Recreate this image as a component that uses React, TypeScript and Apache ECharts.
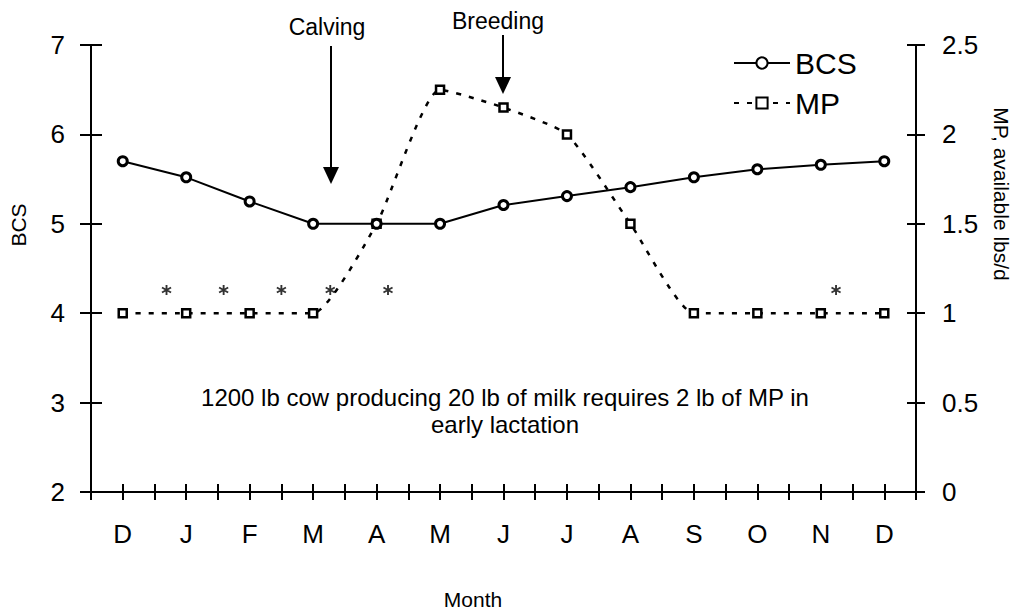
import React, { useEffect, useRef } from "react";
import * as echarts from "echarts";

const months = ["D", "J", "F", "M", "A", "M", "J", "J", "A", "S", "O", "N", "D"];
const bcsValues = [5.7, 5.52, 5.25, 5.0, 5.0, 5.0, 5.21, 5.31, 5.41, 5.52, 5.61, 5.66, 5.7];
const mpValues = [1.0, 1.0, 1.0, 1.0, 1.5, 2.25, 2.15, 2.0, 1.5, 1.0, 1.0, 1.0, 1.0];
const asteriskX = [0.69, 1.59, 2.5, 3.27, 4.18, 11.24];
const asteriskY = 4.26;
const bcsTicks = [2, 7, 1];
const mpTicks = [0, 2.5, 0.5];

const FONT = "Liberation Sans, Arial, sans-serif";
const ASTERISK =
  "path://M4.1 0 L5.9 0 L5.9 10 L4.1 10 Z M1.1 1.72 L9.78 6.72 L8.9 8.28 L0.22 3.28 Z M0.22 6.72 L8.9 1.72 L9.78 3.28 L1.1 8.28 Z";

export default function App() {
  const ref = useRef<HTMLDivElement>(null);
  useEffect(() => {
    document.body.style.margin = "0";
    const chart = echarts.init(ref.current!, null, { renderer: "svg" });
    const tickStyle = { color: "#000", width: 2 };
    const hiddenX = (inside: boolean) => ({
      type: "value",
      min: -0.5,
      max: 12.5,
      interval: 0.5,
      position: "bottom",
      axisLine: { show: false, onZero: false },
      axisTick: { show: true, inside, length: 8, lineStyle: tickStyle },
      axisLabel: { show: false },
      splitLine: { show: false },
    });
    const yAx = (pos: string, t: number[], inside: boolean, main: boolean, len: number, margin: number) => ({
      type: "value",
      position: pos,
      min: t[0],
      max: t[1],
      interval: t[2],
      axisLine: { show: main, onZero: false, lineStyle: { color: "#000", width: 2 } },
      axisTick: { show: true, inside, length: len, lineStyle: tickStyle },
      axisLabel: { show: main, color: "#000", fontSize: 26, fontFamily: FONT, margin },
      splitLine: { show: false },
    });
    const txt = (text: string, x: number, y: number, size: number, rot = 0) => ({
      type: "text",
      x,
      y,
      rotation: rot,
      style: { text, fontSize: size, fontFamily: FONT, fill: "#000", align: "center", verticalAlign: "middle" },
    });
    chart.setOption({
      animation: false,
      textStyle: { fontFamily: FONT },
      grid: { left: 91, right: 100, top: 45, bottom: 120 },
      legend: {
        orient: "vertical",
        left: 728,
        top: 43,
        itemWidth: 56,
        itemHeight: 14,
        itemGap: 10,
        textStyle: { fontSize: 30, color: "#000", fontFamily: FONT },
        data: ["BCS", "MP"],
      },
      xAxis: [
        {
          type: "category",
          data: months,
          boundaryGap: true,
          axisLine: { show: true, onZero: false, lineStyle: { color: "#000", width: 2 } },
          axisTick: { show: false },
          axisLabel: { color: "#000", fontSize: 26, fontFamily: FONT, margin: 29 },
        },
        hiddenX(false),
        hiddenX(true),
      ],
      yAxis: [
        yAx("left", bcsTicks, false, true, 11, 26),
        yAx("left", bcsTicks, true, false, 11, 26),
        yAx("right", mpTicks, false, true, 9, 26),
        yAx("right", mpTicks, true, false, 9, 26),
      ],
      series: [
        {
          name: "BCS",
          type: "line",
          xAxisIndex: 0,
          yAxisIndex: 0,
          data: bcsValues,
          symbol: "circle",
          symbolSize: 9,
          lineStyle: { color: "#000", width: 2 },
          itemStyle: { color: "#fff", borderColor: "#000", borderWidth: 3 },
          z: 3,
        },
        {
          name: "MP",
          type: "line",
          xAxisIndex: 0,
          yAxisIndex: 2,
          data: mpValues,
          smooth: 0.18,
          symbol: "rect",
          symbolSize: 8,
          lineStyle: { color: "#000", width: 2.5, type: [5, 8] },
          itemStyle: { color: "#fff", borderColor: "#000", borderWidth: 2.5 },
          z: 2,
        },
        {
          name: "marks",
          type: "scatter",
          xAxisIndex: 1,
          yAxisIndex: 0,
          data: asteriskX.map((x) => [x, asteriskY]),
          symbol: ASTERISK,
          symbolSize: 10,
          itemStyle: { color: "#000" },
          silent: true,
          z: 4,
        },
      ],
      graphic: [
        txt("BCS", 18, 225, 21, Math.PI / 2),
        txt("MP, available lbs/d", 1001, 194, 21, -Math.PI / 2),
        txt("Month", 473, 599, 21),
        {
          type: "text",
          x: 505,
          y: 411,
          style: {
            text: "1200 lb cow producing 20 lb of milk requires 2 lb of MP in\nearly lactation",
            fontSize: 24,
            lineHeight: 27,
            fontFamily: FONT,
            fill: "#000",
            align: "center",
            verticalAlign: "middle",
          },
        },
        txt("Calving", 327, 27, 23),
        { type: "line", shape: { x1: 331, y1: 46, x2: 331, y2: 170 }, style: { stroke: "#000", lineWidth: 2 } },
        { type: "polygon", shape: { points: [[323, 167], [339, 167], [331, 184]] }, style: { fill: "#000" } },
        txt("Breeding", 498, 21, 23),
        { type: "line", shape: { x1: 503, y1: 35, x2: 503, y2: 80 }, style: { stroke: "#000", lineWidth: 2 } },
        { type: "polygon", shape: { points: [[495, 77], [511, 77], [503, 94]] }, style: { fill: "#000" } },
      ],
    });
    return () => chart.dispose();
  }, []);
  return <div ref={ref} style={{ width: 1016, height: 612 }} />;
}
